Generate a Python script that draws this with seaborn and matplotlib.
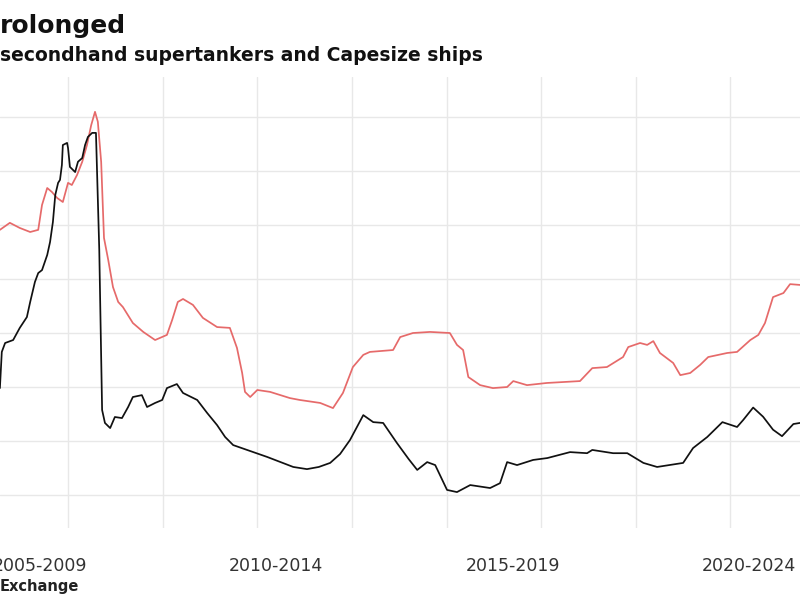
import matplotlib
matplotlib.use("Agg")
import matplotlib.pyplot as plt
import pandas as pd
import seaborn as sns

# secondhand prices (approx $ million)
tanker_years = [2006.56, 2006.77, 2006.98, 2007.20, 2007.37, 2007.45, 2007.56, 2007.66, 2007.77, 2007.89,
                2008.00, 2008.08, 2008.19, 2008.30, 2008.40, 2008.49, 2008.57, 2008.63, 2008.70, 2008.76,
                2008.85, 2008.95, 2009.06, 2009.16, 2009.37, 2009.59, 2009.84, 2010.09, 2010.20, 2010.32,
                2010.43, 2010.64, 2010.85, 2011.15, 2011.42, 2011.57, 2011.68, 2011.74, 2011.85, 2012.00,
                2012.27, 2012.69, 2012.90, 2013.33, 2013.60, 2013.81, 2014.02, 2014.24, 2014.38, 2014.87,
                2015.02, 2015.29, 2015.65, 2016.07, 2016.22, 2016.35, 2016.46, 2016.71, 2016.98, 2017.28,
                2017.41, 2017.70, 2018.12, 2018.82, 2019.08, 2019.39, 2019.73, 2019.84, 2020.09, 2020.24,
                2020.37, 2020.51, 2020.79, 2020.94, 2021.15, 2021.36, 2021.53, 2021.93, 2022.14, 2022.42,
                2022.59, 2022.73, 2022.90, 2023.12, 2023.26, 2023.47]
tanker_prices = [118.2, 120.8, 118.9, 117.4, 118.2, 127.4, 133.7, 132.2, 130.0, 128.5,
                 135.6, 134.8, 138.5, 143.4, 149.6, 157.0, 161.9, 158.2, 143.4, 115.2,
                 107.0, 97.0, 91.5, 89.6, 83.7, 80.4, 77.4, 79.3, 84.8, 91.5,
                 92.6, 90.4, 85.6, 82.2, 81.9, 74.5, 65.2, 58.2, 56.3, 58.9,
                 58.2, 55.9, 55.2, 54.1, 52.2, 57.8, 67.4, 71.9, 73.0, 73.7,
                 78.5, 80.0, 80.4, 80.0, 75.6, 73.7, 63.7, 60.7, 59.6, 60.0,
                 62.2, 60.7, 61.5, 62.2, 67.0, 67.4, 71.1, 74.8, 76.3, 75.6,
                 77.0, 72.6, 68.9, 64.4, 65.2, 68.2, 71.1, 72.6, 73.0, 77.4,
                 79.3, 83.7, 93.3, 94.8, 98.1, 97.8]

cape_years = [2006.56, 2006.60, 2006.67, 2006.84, 2006.98, 2007.13, 2007.20, 2007.30, 2007.37, 2007.45,
              2007.56, 2007.62, 2007.68, 2007.73, 2007.79, 2007.83, 2007.87, 2007.89, 2007.98, 2008.00,
              2008.04, 2008.15, 2008.21, 2008.30, 2008.36, 2008.42, 2008.51, 2008.59, 2008.66, 2008.72,
              2008.78, 2008.89, 2008.99, 2009.14, 2009.27, 2009.37, 2009.56, 2009.67, 2009.84, 2009.99,
              2010.09, 2010.30, 2010.43, 2010.73, 2010.94, 2011.15, 2011.32, 2011.49, 2011.85, 2012.21,
              2012.76, 2013.05, 2013.30, 2013.54, 2013.75, 2013.96, 2014.24, 2014.45, 2014.66, 2014.95,
              2015.20, 2015.38, 2015.59, 2015.76, 2016.01, 2016.22, 2016.50, 2016.92, 2017.13, 2017.28,
              2017.49, 2017.83, 2018.13, 2018.61, 2018.97, 2019.08, 2019.52, 2019.82, 2020.16, 2020.45,
              2021.00, 2021.21, 2021.51, 2021.83, 2022.14, 2022.27, 2022.48, 2022.69, 2022.90, 2023.09,
              2023.33, 2023.47]
cape_prices = [59.6, 73.0, 76.3, 77.4, 81.9, 85.9, 91.5, 98.9, 102.2, 103.3,
               108.9, 113.7, 121.1, 131.1, 135.6, 136.7, 142.2, 149.6, 150.4, 148.5,
               141.5, 139.6, 143.4, 144.8, 149.6, 152.6, 154.1, 154.1, 110.8, 51.5,
               46.7, 44.8, 48.9, 48.5, 52.6, 56.3, 57.0, 52.6, 54.1, 55.2,
               59.6, 61.1, 57.8, 55.2, 50.4, 45.9, 41.5, 38.5, 36.3, 34.1,
               30.4, 29.6, 30.4, 31.9, 35.2, 40.4, 49.6, 47.0, 46.7, 39.3,
               33.3, 29.3, 32.2, 31.1, 21.9, 21.1, 23.7, 22.6, 24.4, 32.2,
               31.1, 33.0, 33.7, 35.9, 35.5, 36.7, 35.5, 35.5, 31.9, 30.4,
               31.9, 37.4, 41.5, 47.0, 45.2, 47.8, 52.4, 49.0, 44.2, 41.8,
               46.3, 46.7]

period_labels = ["2005-2009", "2010-2014", "2015-2019", "2020-2024"]
period_starts = [2005, 2010, 2015, 2020]
grid_years = list(range(2008, 2024, 2))
grid_values = list(range(20, 161, 20))

df = pd.concat([
    pd.DataFrame({"year": tanker_years, "price": tanker_prices, "ship": "Supertanker"}),
    pd.DataFrame({"year": cape_years, "price": cape_prices, "ship": "Capesize"}),
])

sns.set_style("white")
plt.rcParams["font.family"] = ["DejaVu Sans"]

fig = plt.figure(figsize=(8, 6), dpi=100)
ax = fig.add_axes([0, 0.12, 1.0, 0.7517])

sns.lineplot(
    ax=ax,
    data=df,
    x="year",
    y="price",
    hue="ship",
    palette={"Supertanker": "#e66a6a", "Capesize": "#111111"},
    linewidth=1.25,
    legend=False,
    sort=False,
)

ax.set_xlim(2006.562, 2023.47)
ax.set_ylim(7.8, 174.8)
ax.set_xticks(grid_years)
ax.set_xticks([s + 2.4 for s in period_starts], period_labels, minor=True)
ax.set_yticks(grid_values)
ax.tick_params(which="both", length=0)
ax.tick_params(which="major", labelbottom=False, labelleft=False)
ax.tick_params(which="minor", pad=21, labelsize=12.5, labelcolor="#333333")
ax.grid(True, which="major", color="#e8e8e8", linewidth=1)
ax.set_xlabel("")
ax.set_ylabel("")
for s in ax.spines.values():
    s.set_visible(False)

fig.text(0.0, 0.945, "rolonged", fontsize=18, fontweight="bold", color="#111111", va="baseline")
fig.text(0.0, 0.898, "secondhand supertankers and Capesize ships", fontsize=13.5,
         fontweight="bold", color="#111111", va="baseline")
fig.text(0.0, 0.015, "Exchange", fontsize=10.5, fontweight="bold", color="#222222", va="baseline")

plt.savefig("out.png", dpi=100)
